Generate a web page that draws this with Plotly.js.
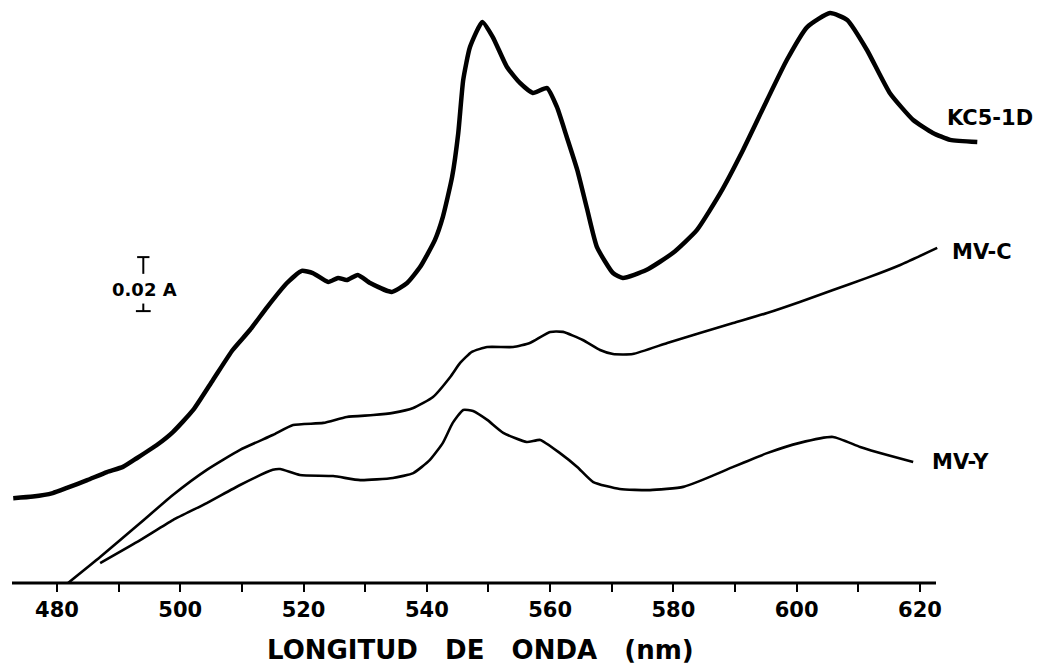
<!DOCTYPE html>
<html>
<head>
<meta charset="utf-8">
<script src="https://cdn.plot.ly/plotly-3.0.1.min.js"></script>
<style>
  html, body { margin: 0; padding: 0; background: #fff; }
  #chart { width: 1046px; height: 670px; }
</style>
</head>
<body>
<div id="chart"></div>
<script>
// Wavelength (nm) and absorbance (A, arbitrary offset)
const kcWl = [472.9, 476.1, 479.3, 481.6, 484.9, 488.1, 490.7, 493.0, 496.2, 498.8, 502.1, 505.3, 508.5, 511.3, 514.1, 517.3, 519.7, 521.5, 524.0, 525.6, 527.0, 528.8, 530.8, 534.3, 536.8, 538.9, 541.3, 542.6, 544.1, 545.1, 545.9, 547.0, 549.0, 550.7, 553.0, 555.1, 557.2, 559.5, 561.1, 562.7, 564.4, 566.0, 567.6, 570.2, 571.8, 575.6, 579.9, 583.8, 587.6, 591.3, 595.2, 598.4, 601.7, 605.4, 608.2, 611.4, 615.1, 618.9, 622.1, 624.9, 629.3];
const kcA  = [0.0314, 0.0320, 0.0333, 0.0352, 0.0381, 0.0411, 0.0430, 0.0463, 0.0511, 0.0559, 0.0641, 0.0752, 0.0863, 0.0937, 0.1022, 0.1111, 0.1156, 0.1148, 0.1115, 0.1130, 0.1122, 0.1141, 0.1111, 0.1078, 0.1111, 0.1170, 0.1270, 0.1356, 0.1504, 0.1667, 0.1863, 0.1985, 0.2078, 0.2022, 0.1911, 0.1852, 0.1815, 0.1833, 0.1763, 0.1652, 0.1530, 0.1385, 0.1244, 0.1148, 0.1130, 0.1159, 0.1222, 0.1307, 0.1444, 0.1604, 0.1789, 0.1937, 0.2059, 0.2111, 0.2085, 0.1974, 0.1815, 0.1715, 0.1667, 0.1641, 0.1633];

const mvcWl = [481.8, 487.0, 493.5, 498.8, 504.3, 509.7, 515.0, 518.3, 523.2, 527.0, 531.3, 534.5, 537.8, 541.0, 543.8, 545.4, 547.3, 549.8, 554.0, 556.7, 560.0, 562.1, 565.3, 568.1, 570.2, 573.4, 579.0, 584.3, 589.7, 595.2, 600.5, 605.9, 611.4, 616.8, 622.8];
const mvcA  = [0.0000, 0.0096, 0.0222, 0.0326, 0.0419, 0.0493, 0.0548, 0.0585, 0.0593, 0.0615, 0.0622, 0.0630, 0.0648, 0.0689, 0.0763, 0.0815, 0.0856, 0.0874, 0.0874, 0.0889, 0.0930, 0.0930, 0.0900, 0.0863, 0.0848, 0.0848, 0.0889, 0.0926, 0.0963, 0.1000, 0.1041, 0.1085, 0.1130, 0.1178, 0.1241];

const mvyWl = [487.0, 493.5, 498.8, 504.3, 509.7, 515.0, 516.2, 519.4, 524.8, 529.2, 534.5, 537.8, 540.5, 542.6, 544.2, 545.9, 547.5, 549.8, 552.4, 556.2, 558.4, 561.6, 564.4, 567.0, 571.3, 576.2, 581.6, 585.9, 589.7, 595.2, 600.5, 605.9, 610.3, 614.7, 618.9];
const mvyA  = [0.0074, 0.0159, 0.0233, 0.0296, 0.0363, 0.0419, 0.0422, 0.0400, 0.0396, 0.0381, 0.0389, 0.0407, 0.0456, 0.0519, 0.0593, 0.0641, 0.0637, 0.0604, 0.0556, 0.0522, 0.0530, 0.0481, 0.0430, 0.0374, 0.0348, 0.0344, 0.0356, 0.0393, 0.0430, 0.0481, 0.0519, 0.0541, 0.0504, 0.0474, 0.0448];

const seriesNames = ['KC5-1D', 'MV-C', 'MV-Y'];
const tickVals = [480, 490, 500, 510, 520, 530, 540, 550, 560, 570, 580, 590, 600, 610, 620];
const tickText = ['480', '', '500', '', '520', '', '540', '', '560', '', '580', '', '600', '', '620'];
const xTitle = 'LONGITUD\u00A0\u00A0 DE\u00A0\u00A0 ONDA\u00A0\u00A0 (nm)';
const scaleText = '0.02 A';
const scaleSize = 0.02;

const FONT = 'DejaVu Sans, Arial, sans-serif';

function tr(x, y, w) {
  return { x: x, y: y, type: 'scatter', mode: 'lines', hoverinfo: 'skip',
           line: { color: '#000', width: w, shape: 'spline', smoothing: 0.5 } };
}

const data = [tr(kcWl, kcA, 4.5), tr(mvcWl, mvcA, 2.6), tr(mvyWl, mvyA, 2.6)];

// scale bar geometry (data units)
const sbX = 494.0, sbBottom = 0.1007, sbTop = sbBottom + scaleSize;
const shapes = [
  // axis line
  { type: 'line', xref: 'paper', yref: 'paper', x0: 12 / 1046, x1: 936 / 1046, y0: 0, y1: 0,
    line: { color: '#000', width: 3 } },
  // scale bar upper part + cap
  { type: 'line', xref: 'x', yref: 'y', x0: sbX, x1: sbX, y0: sbTop, y1: sbTop - 0.0062, line: { color: '#000', width: 2 } },
  { type: 'line', xref: 'x', yref: 'y', x0: sbX - 1.0, x1: sbX + 1.0, y0: sbTop, y1: sbTop, line: { color: '#000', width: 2 } },
  // lower part + cap
  { type: 'line', xref: 'x', yref: 'y', x0: sbX, x1: sbX, y0: sbBottom + 0.0028, y1: sbBottom, line: { color: '#000', width: 2 } },
  { type: 'line', xref: 'x', yref: 'y', x0: sbX - 1.2, x1: sbX + 1.2, y0: sbBottom, y1: sbBottom, line: { color: '#000', width: 2 } }
];

const labelFont = { family: FONT, size: 21, color: '#000', weight: 'bold' };
const annotations = [
  { x: 624.1, y: 0.1722, xref: 'x', yref: 'y', text: seriesNames[0], showarrow: false, xanchor: 'left', yanchor: 'middle', font: labelFont },
  { x: 624.9, y: 0.1226, xref: 'x', yref: 'y', text: seriesNames[1], showarrow: false, xanchor: 'left', yanchor: 'middle', font: labelFont },
  { x: 621.6, y: 0.0448, xref: 'x', yref: 'y', text: seriesNames[2], showarrow: false, xanchor: 'left', yanchor: 'middle', font: labelFont },
  { x: 488.6, y: sbBottom + 0.0080, xref: 'x', yref: 'y', text: scaleText, showarrow: false, xanchor: 'left', yanchor: 'middle',
    font: { family: FONT, size: 18, color: '#000', weight: 'bold' } },
  { x: 480 / 1046, y: -0.115, xref: 'paper', yref: 'paper', text: xTitle, showarrow: false, xanchor: 'center', yanchor: 'middle',
    font: { family: FONT, size: 26, color: '#000', weight: 'bold' } }
];

const pxPerNm = 6.164;
const layout = {
  width: 1046, height: 670,
  margin: { l: 0, r: 0, t: 0, b: 87, pad: 0 },
  paper_bgcolor: '#fff', plot_bgcolor: '#fff',
  showlegend: false,
  xaxis: {
    range: [480 - 57 / pxPerNm, 480 + (1046 - 57) / pxPerNm],
    showgrid: false, zeroline: false, showline: false,
    tickmode: 'array', tickvals: tickVals, ticktext: tickText,
    ticks: 'outside', ticklen: 8, tickwidth: 2, tickcolor: '#000',
    tickfont: { family: FONT, size: 21, color: '#000', weight: 'bold' }
  },
  yaxis: {
    range: [0, 583 / 2700],
    visible: false, showgrid: false, zeroline: false
  },
  shapes: shapes,
  annotations: annotations
};

Plotly.newPlot('chart', data, layout, { displayModeBar: false, staticPlot: true });
</script>
</body>
</html>
